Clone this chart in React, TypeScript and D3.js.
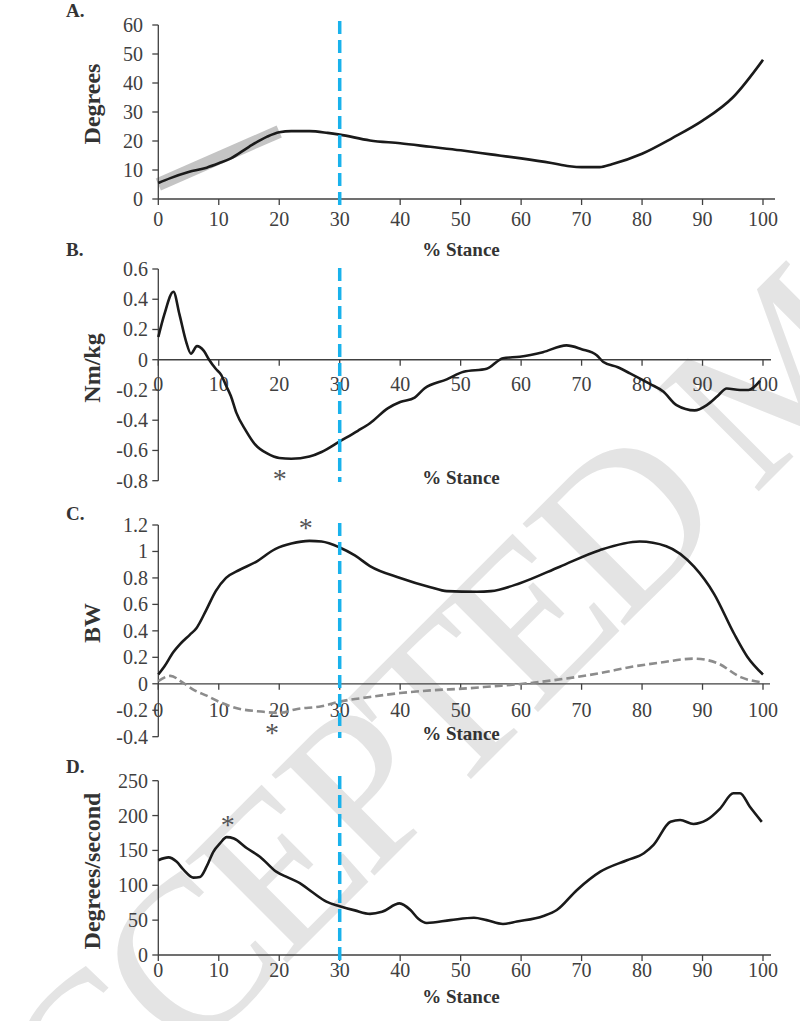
import React from 'react';
import * as d3 from 'd3';

// shared x axis: % stance
const stanceTicks = [0, 10, 20, 30, 40, 50, 60, 70, 80, 90, 100];
const cutoff = 30; // blue dashed marker

// A. joint angle (degrees)
const angleX = [0, 2, 5, 8, 10, 12, 15, 18, 20, 22, 25, 28, 30, 35, 40, 45, 50, 55, 60, 65, 68, 70, 73, 75, 80, 85, 90, 95, 100];
const angleY = [5.5, 7.2, 9.3, 10.8, 12.3, 14, 18, 21.5, 23, 23.4, 23.4, 22.8, 22.2, 20.2, 19.2, 18, 16.8, 15.4, 14, 12.4, 11.3, 11, 11, 12, 15.6, 21, 27, 35, 48];
const bandX = [0, 20];
const bandY = [5, 23.3];
const angleTicks = [0, 10, 20, 30, 40, 50, 60];

// B. moment (Nm/kg)
const momentX = [0, 1, 2.5, 3.5, 4.6, 5.4, 6.4, 7.5, 8.4, 9.5, 10.4, 11.2, 12, 12.9, 14.5, 16, 18, 20, 22, 25, 27, 30, 33, 35, 38, 40, 42.4, 44, 47.7, 50.5, 54.3, 57, 59.8, 63.6, 67.5, 70, 72.5, 73.6, 76, 78, 81.3, 83.5, 85.7, 88.7, 90.7, 92.5, 94, 96.2, 97.6, 99.5];
const momentY = [0.15, 0.3, 0.45, 0.3, 0.12, 0.04, 0.09, 0.06, 0.0, -0.06, -0.1, -0.17, -0.24, -0.35, -0.47, -0.56, -0.62, -0.65, -0.655, -0.64, -0.61, -0.54, -0.47, -0.42, -0.32, -0.28, -0.25, -0.19, -0.13, -0.08, -0.06, 0.01, 0.02, 0.05, 0.095, 0.07, 0.03, -0.015, -0.05, -0.09, -0.16, -0.21, -0.3, -0.335, -0.3, -0.24, -0.19, -0.2, -0.2, -0.14];
const momentTicks = [-0.8, -0.6, -0.4, -0.2, 0, 0.2, 0.4, 0.6];

// C. ground reaction force (BW)
const vertX = [0, 1, 2.5, 3.6, 5.2, 6.3, 7.9, 9.5, 11.2, 13.4, 16.1, 19.4, 22, 25, 27, 30, 32.5, 35, 40, 45, 47.7, 52.7, 55, 59.8, 66.4, 73, 79.6, 84, 88.6, 91.9, 95.2, 97.4, 100];
const vertY = [0.07, 0.13, 0.24, 0.3, 0.37, 0.42, 0.555, 0.7, 0.8, 0.86, 0.92, 1.02, 1.06, 1.08, 1.075, 1.03, 0.97, 0.89, 0.8, 0.73, 0.7, 0.695, 0.7, 0.76, 0.885, 1.01, 1.075, 1.04, 0.885, 0.68, 0.38, 0.205, 0.07];
const apX = [0, 2, 4, 6, 8, 10, 13, 17, 20, 23, 27, 30, 35, 40, 45, 51, 55, 60.3, 67.5, 73, 78.5, 83, 88.6, 92.5, 96.3, 100];
const apY = [0.02, 0.06, 0.01, -0.05, -0.09, -0.135, -0.185, -0.21, -0.22, -0.19, -0.17, -0.135, -0.1, -0.07, -0.05, -0.035, -0.02, 0, 0.04, 0.08, 0.13, 0.16, 0.19, 0.155, 0.05, 0.01];
const bwTicks = [-0.4, -0.2, 0, 0.2, 0.4, 0.6, 0.8, 1, 1.2];

// D. angular velocity (degrees/second)
const velX = [0, 1.7, 3, 4.2, 5.8, 6.9, 8, 9.1, 10.2, 11.3, 12.5, 14.6, 16.8, 19.5, 21.5, 23.4, 25.5, 27.8, 30, 32.5, 35, 37, 39.9, 41.7, 43, 44.4, 48.3, 52.2, 54.3, 57, 59.3, 63.7, 65.9, 69.2, 73.1, 77.5, 80.3, 81.9, 84.7, 86.3, 88.5, 90.7, 92.9, 95.1, 96.2, 97.8, 99.8];
const velY = [136, 140, 134, 122, 111, 112, 127, 148, 160, 169, 167, 153.5, 141, 119.5, 111, 103, 90, 76.5, 70, 64, 59, 62, 74, 64.5, 52, 46, 50, 53.5, 50, 44.5, 48, 56, 64.5, 93, 119.5, 136, 146, 158, 191, 193.7, 188, 193.7, 210, 232, 232, 213, 191];
const velTicks = [0, 50, 100, 150, 200, 250];

// significance markers
const starsB = [{ x: 20.1, y: -0.77 }];
const starsC = [{ x: 24.4, y: 1.2 }, { x: 18.8, y: -0.35 }];
const starsD = [{ x: 11.5, y: 191 }];

const serif = '"Liberation Serif", "Times New Roman", serif';
const xScale = d3.scaleLinear().domain([0, 100]).range([158.3, 763]);

function toPts(xs, ys) {
  return xs.map((v, i) => [v, ys[i]]);
}

function Panel({ letter, letterY, title, titleY, ticks, top, bottom, labelEnd, tickBase, stanceBase, axisEnd, blueTop, blueBottom, series, stars, band }) {
  const y = d3.scaleLinear().domain([ticks[0], ticks[ticks.length - 1]]).range([bottom, top]);
  const line = d3.line().x(d => xScale(d[0])).y(d => y(d[1])).curve(d3.curveMonotoneX);
  const zeroY = y(0);
  const axisX = xScale(0);
  return (
    <g>
      {band && (
        <path d={d3.line().x(d => xScale(d[0])).y(d => y(d[1]))(toPts(band.xs, band.ys))}
          stroke="#c4c4c4" strokeWidth={13} fill="none" />
      )}
      {/* axes */}
      <line x1={axisX} x2={axisX} y1={y(ticks[0])} y2={y(ticks[ticks.length - 1])} stroke="#404040" strokeWidth={1.3} />
      {ticks.map(t => (
        <g key={'y' + t}>
          <line x1={axisX - 6} x2={axisX} y1={y(t)} y2={y(t)} stroke="#404040" strokeWidth={1.3} />
          <text x={labelEnd} y={y(t)} dy="0.35em" textAnchor="end" fontSize={20} fill="#404040" fontFamily={serif}>{t}</text>
        </g>
      ))}
      <line x1={axisX} x2={axisEnd} y1={zeroY} y2={zeroY} stroke="#404040" strokeWidth={1.3} />
      {stanceTicks.map(t => (
        <g key={'x' + t}>
          <line x1={xScale(t)} x2={xScale(t)} y1={zeroY} y2={zeroY + 6} stroke="#404040" strokeWidth={1.3} />
          <text x={xScale(t)} y={tickBase} textAnchor="middle" fontSize={20} fill="#404040" fontFamily={serif}>{t}</text>
        </g>
      ))}
      <text x={461} y={stanceBase} textAnchor="middle" fontSize={19} fontWeight="bold" fill="#333" fontFamily={serif}>% Stance</text>
      <text transform={`translate(100,${titleY}) rotate(-90)`} textAnchor="middle" fontSize={24} fontWeight="bold" fill="#333" fontFamily={serif}>{title}</text>
      <text x={66} y={letterY} fontSize={19} fontWeight="bold" fill="#333" fontFamily={serif}>{letter}</text>
      {/* series */}
      {series.map((s, i) => (
        <path key={i} d={line(toPts(s.xs, s.ys))} fill="none" stroke={s.color} strokeWidth={s.width}
          strokeDasharray={s.dash || null} strokeLinejoin="round" />
      ))}
      <line x1={xScale(cutoff)} x2={xScale(cutoff)} y1={blueTop} y2={blueBottom} stroke="#19b2ec" strokeWidth={3.5} strokeDasharray="13,6" />
      {stars.map((s, i) => (
        <text key={i} x={xScale(s.x)} y={y(s.y) + 12} textAnchor="middle" fontSize={28} fill="#555" fontFamily={serif}>*</text>
      ))}
    </g>
  );
}

export default function App() {
  return (
    <svg width={800} height={1021} style={{ position: 'absolute', left: 0, top: 0, background: '#fff' }}>
      <text x={-12} y={1262} transform="rotate(-45,-12,1262)" fontSize={220} letterSpacing={-12} fontFamily={serif} fill="#e4e4e4">ACCEPTED MANUSCRIPT</text>
      <Panel letter="A." letterY={17} title="Degrees" titleY={104} ticks={angleTicks} top={25} bottom={199}
        labelEnd={143} tickBase={226} stanceBase={256} axisEnd={775} blueTop={21} blueBottom={210}
        band={{ xs: bandX, ys: bandY }}
        series={[{ xs: angleX, ys: angleY, color: '#1a1a1a', width: 2.6 }]} stars={[]} />
      <Panel letter="B." letterY={256} title="Nm/kg" titleY={368} ticks={momentTicks} top={269} bottom={480.7}
        labelEnd={148} tickBase={391} stanceBase={484} axisEnd={771} blueTop={268} blueBottom={482}
        series={[{ xs: momentX, ys: momentY, color: '#1a1a1a', width: 2.6 }]} stars={starsB} />
      <Panel letter="C." letterY={520} title="BW" titleY={623} ticks={bwTicks} top={525} bottom={736.7}
        labelEnd={148} tickBase={717} stanceBase={740} axisEnd={770} blueTop={523} blueBottom={738}
        series={[
          { xs: apX, ys: apY, color: '#8c8c8c', width: 2.6, dash: '8,4' },
          { xs: vertX, ys: vertY, color: '#1a1a1a', width: 2.6 },
        ]} stars={starsC} />
      <Panel letter="D." letterY={773} title="Degrees/second" titleY={871} ticks={velTicks} top={780.7} bottom={955}
        labelEnd={148} tickBase={977} stanceBase={1003} axisEnd={771} blueTop={776} blueBottom={967}
        series={[{ xs: velX, ys: velY, color: '#1a1a1a', width: 2.6 }]} stars={starsD} />
    </svg>
  );
}
